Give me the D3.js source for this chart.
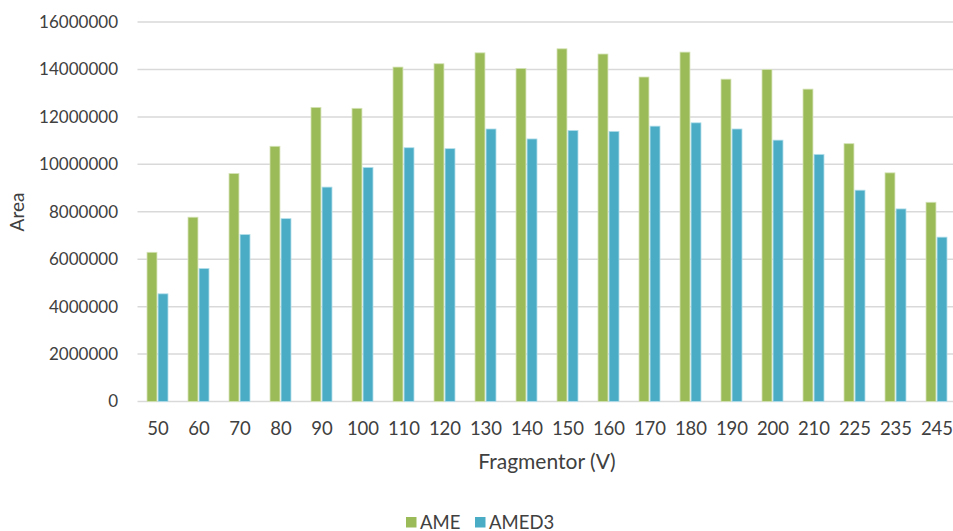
<!DOCTYPE html>
<html>
<head>
<meta charset="utf-8">
<script src="https://cdn.jsdelivr.net/npm/d3@7"></script>
<style>
  body { margin: 0; background: #fff; }
  svg { display: block; font-family: Lato, "Open Sans", sans-serif; }
</style>
</head>
<body>
<div id="chart"></div>
<script>
// fragmentor voltages
const categories = ["50", "60", "70", "80", "90", "100", "110", "120", "130", "140",
  "150", "160", "170", "180", "190", "200", "210", "225", "235", "245"];
const seriesNames = ["AME", "AMED3"];
const ame = [6290000, 7770000, 9610000, 10760000, 12400000, 12360000, 14100000, 14240000, 14700000, 14040000,
  14870000, 14650000, 13680000, 14730000, 13590000, 14000000, 13170000, 10870000, 9640000, 8400000];
const amed3 = [4540000, 5610000, 7040000, 7710000, 9040000, 9870000, 10700000, 10660000, 11490000, 11070000,
  11430000, 11390000, 11610000, 11750000, 11490000, 11020000, 10420000, 8910000, 8120000, 6930000];
const yTicks = [0, 2000000, 4000000, 6000000, 8000000, 10000000, 12000000, 14000000, 16000000];
const colors = ["#9bbb59", "#4bacc6"];
const strokes = ["#d4e3b5", "#b4dfea"];

const width = 953, height = 531;
const plotLeft = 137.5, plotRight = 957.5, plotTop = 22, plotBottom = 401.5;

const svg = d3.select("#chart").append("svg")
  .attr("width", width)
  .attr("height", height);

const x0 = d3.scaleBand()
  .domain(categories)
  .range([plotLeft, plotRight])
  .paddingInner(0.488)
  .paddingOuter(0.244);

const x1 = d3.scaleBand()
  .domain(seriesNames)
  .range([0, x0.bandwidth()])
  .paddingInner(0.1);

const y = d3.scaleLinear()
  .domain([0, 16000000])
  .range([plotBottom, plotTop]);

// gridlines
svg.append("g")
  .selectAll("line")
  .data(yTicks)
  .join("line")
  .attr("x1", plotLeft)
  .attr("x2", width)
  .attr("y1", d => y(d))
  .attr("y2", d => y(d))
  .attr("stroke", "#d9d9d9")
  .attr("stroke-width", 1.5);

// y tick labels
svg.append("g")
  .selectAll("text")
  .data(yTicks)
  .join("text")
  .attr("x", 118)
  .attr("y", d => y(d))
  .attr("dy", "0.35em")
  .attr("text-anchor", "end")
  .attr("fill", "#404040")
  .style("font-size", "17px")
  .text(d => d3.format("d")(d));

// bars
const rows = categories.map((c, i) => ({ cat: c, values: [ame[i], amed3[i]] }));

const groups = svg.append("g")
  .selectAll("g")
  .data(rows)
  .join("g")
  .attr("transform", d => `translate(${x0(d.cat) - 0.5},0)`);

groups.selectAll("rect")
  .data(d => d.values.map((v, k) => ({ key: seriesNames[k], value: v, k })))
  .join("rect")
  .attr("x", d => x1(d.key))
  .attr("y", d => y(d.value))
  .attr("width", x1.bandwidth())
  .attr("height", d => plotBottom - y(d.value))
  .attr("fill", d => colors[d.k])
  .attr("stroke", d => strokes[d.k])
  .attr("stroke-width", 0.8);

// x tick labels
svg.append("g")
  .selectAll("text")
  .data(categories)
  .join("text")
  .attr("x", d => x0(d) + x0.bandwidth() / 2)
  .attr("y", 435)
  .attr("text-anchor", "middle")
  .attr("fill", "#404040")
  .style("font-size", "18.5px")
  .text(d => d);

// axis titles
svg.append("text")
  .attr("x", 547)
  .attr("y", 469)
  .attr("text-anchor", "middle")
  .attr("fill", "#404040")
  .style("font-size", "21px")
  .text("Fragmentor (V)");

svg.append("text")
  .attr("transform", "translate(24,212) rotate(-90)")
  .attr("text-anchor", "middle")
  .attr("fill", "#404040")
  .style("font-size", "19px")
  .text("Area");

// legend
const legendX = [406, 475];
const legend = svg.append("g")
  .selectAll("g")
  .data(seriesNames)
  .join("g")
  .attr("transform", (d, i) => `translate(${legendX[i]},517)`);

legend.append("rect")
  .attr("width", 10.5)
  .attr("height", 10.5)
  .attr("fill", (d, i) => colors[i]);

legend.append("text")
  .attr("x", 14)
  .attr("y", 11.5)
  .attr("fill", "#404040")
  .style("font-size", "18.5px")
  .text(d => d);
</script>
</body>
</html>
